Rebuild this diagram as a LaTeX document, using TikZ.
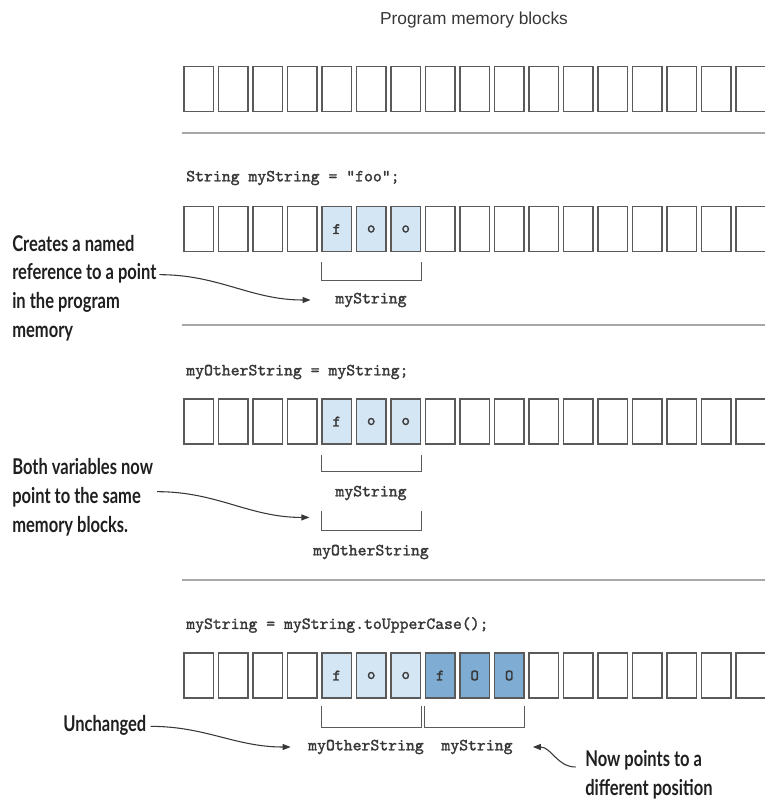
\documentclass[tikz,border=0pt]{standalone}
\usepackage{fontspec}
\newfontfamily\notefont{Lato}[FakeStretch=0.76]
\newfontfamily\headfont{Liberation Sans}
\newfontfamily\codefont{lmmono10-regular.otf}[FakeBold=1.6]
\usetikzlibrary{arrows.meta,positioning,calc}
\definecolor{cellgray}{RGB}{90,90,90}
\definecolor{rulegray}{RGB}{168,168,168}
\definecolor{oldblue}{RGB}{212,229,244}
\definecolor{newblue}{RGB}{126,172,211}
\definecolor{inkgray}{RGB}{55,55,55}

\begin{document}
\begin{tikzpicture}[
    x=0.75pt, y=-0.75pt,
    cell/.style={draw=cellgray, line width=1.1pt, minimum width=21.9pt, minimum height=33.8pt, inner sep=0pt, font=\fontsize{12pt}{14pt}\codefont, text=inkgray},
    oldval/.style={cell, fill=oldblue},
    newval/.style={cell, fill=newblue},
    code/.style={anchor=west, inner sep=0pt, font=\fontsize{12.7pt}{15pt}\codefont, text=inkgray},
    var/.style={inner sep=0pt, font=\fontsize{12.7pt}{15pt}\codefont, text=inkgray},
    note/.style={align=left, anchor=west, inner sep=0pt, font=\fontsize{16.3pt}{21.6pt}\notefont\bfseries, text=black!88},
    rule/.style={draw=rulegray, line width=1.8pt},
    bracket/.style={draw=cellgray, line width=0.8pt},
    pointer/.style={draw=inkgray, line width=0.8pt, -{Triangle[length=6pt,width=4.5pt]}}
]
\useasboundingbox (0,0) rectangle (764,803);

\node[font=\fontsize{13pt}{15pt}\headfont, text=inkgray] (title) at (474,20) {Program memory blocks};

% empty memory
\foreach \i in {0,...,16}
    \node[cell] (a\i) at ({198.7+34.5*\i},89) {};
\draw[rule] (182,133) -- (770,133);

% String myString = "foo";
\node[code] (code1) at (186,178) {String myString = "foo";};
\foreach \i in {0,1,2,3,7,8,9,10,11,12,13,14,15,16}
    \node[cell] (b\i) at ({198.7+34.5*\i},229) {};
\foreach \i/\t in {4/f,5/o,6/o}
    \node[oldval] (b\i) at ({198.7+34.5*\i},229) {\t};
\draw[bracket] ([yshift=-7.5pt]b4.south west) -- ++(0,18) -| ([yshift=-7.5pt]b6.south east);
\node[var] (ms2) at (371,300) {myString};
\node[note] (note1) at (12,288) {Creates a named\\reference to a point\\in the program\\memory};
\draw[pointer] ([xshift=2pt,yshift=10pt]note1.east) to[out=0,in=180] ([xshift=-18.5pt]ms2.west);
\draw[rule] (182,325) -- (770,325);

% myOtherString = myString;
\node[code] (code2) at (186,372) {myOtherString = myString;};
\foreach \i in {0,1,2,3,7,8,9,10,11,12,13,14,15,16}
    \node[cell] (c\i) at ({198.7+34.5*\i},421.5) {};
\foreach \i/\t in {4/f,5/o,6/o}
    \node[oldval] (c\i) at ({198.7+34.5*\i},421.5) {\t};
\draw[bracket] ([yshift=-7.5pt]c4.south west) -- ++(0,17) -| ([yshift=-7.5pt]c6.south east);
\node[var] (ms3) at (371,493) {myString};
\draw[bracket] ([yshift=-50pt]c4.south west) -- ++(0,19) -| ([yshift=-50pt]c6.south east);
\node[var] (mo3) at (371,552) {myOtherString};
\coordinate (tip3) at ([xshift=-9pt,yshift=-54.5pt]c4.south west);
\node[note] (note2) at (12,497) {Both variables now\\point to the same\\memory blocks.};
\draw[pointer] ([xshift=3pt,yshift=4pt]note2.east) to[out=0,in=180] (tip3);
\draw[rule] (182,580) -- (770,580);

% myString = myString.toUpperCase();
\node[code] (code3) at (186,625) {myString = myString.toUpperCase();};
\foreach \i in {0,1,2,3,10,11,12,13,14,15,16}
    \node[cell] (d\i) at ({198.7+34.5*\i},675.5) {};
\foreach \i/\t in {4/f,5/o,6/o}
    \node[oldval] (d\i) at ({198.7+34.5*\i},675.5) {\t};
\foreach \i/\t in {7/f,8/O,9/O}
    \node[newval] (d\i) at ({198.7+34.5*\i},675.5) {\t};
\draw[bracket] ([yshift=-5.5pt]d4.south west) -- ++(0,21) -| ([yshift=-5.5pt]d6.south east);
\draw[bracket] ([yshift=-5.5pt]d7.south west) -- ++(0,21) -| ([yshift=-5.5pt]d9.south east);
\node[var] (mo4) at (366,747) {myOtherString};
\node[var] (ms4) at (477,747) {myString};
\node[note] (note3) at (63,725) {Unchanged};
\draw[pointer] ([xshift=3pt,yshift=-1pt]note3.east) to[out=0,in=180] ([xshift=-13pt]mo4.west);
\node[note] (note4) at (585,775) {Now points to a\\different position};
\draw[pointer] ([xshift=-7pt,yshift=6pt]note4.west) to[out=180,in=0] ([xshift=15pt]ms4.east);
\end{tikzpicture}
\end{document}
